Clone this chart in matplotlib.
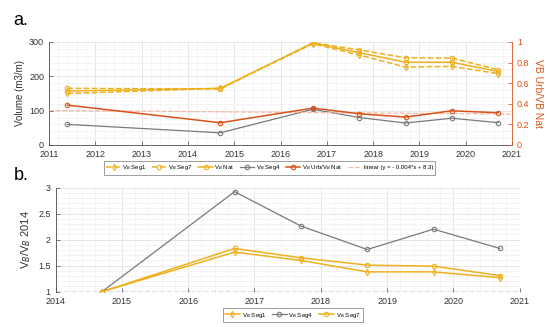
import numpy as np
from matplotlib import pyplot as plt
from matplotlib.ticker import MultipleLocator, FormatStrFormatter

# survey dates (decimal years)
YEARS = [2011.4, 2014.7, 2016.7, 2017.7, 2018.7, 2019.7, 2020.7]
YEARS_B = [2014.7, 2016.7, 2017.7, 2018.7, 2019.7, 2020.7]

# panel a: volumes (m3/m)
VB_SEG1 = [150, 165, 295, 262, 227, 229, 208]
VB_SEG7 = [165, 163, 298, 277, 254, 253, 219]
VB_NAT = [157, 165, 297, 269, 241, 241, 214]
VB_SEG4 = [60, 35.5, 104, 80, 64, 78, 65]
# ratio urban / natural (right axis)
URB_NAT = [0.387, 0.216, 0.358, 0.303, 0.271, 0.332, 0.313]
FIT_X = [2011, 2021]
FIT_Y = [0.335, 0.300]

# panel b: volume relative to 2014
REL_SEG1 = [1.0, 1.76, 1.60, 1.38, 1.38, 1.27]
REL_SEG4 = [1.0, 2.92, 2.26, 1.81, 2.20, 1.83]
REL_SEG7 = [1.0, 1.83, 1.65, 1.51, 1.49, 1.31]

YELLOW = "#EDB120"
ORANGE = "#D95319"
GRAY = "#7a7a7a"
SALMON = "#F6B8A2"
AXCOL = "#4d4d4d"
FS = 6.5

plt.rc("font", family="Liberation Sans", size=FS)


def style_axes(ax, xmin, xmax):
    ax.set_xlim(xmin, xmax)
    ax.xaxis.set_major_locator(MultipleLocator(1))
    ax.xaxis.set_minor_locator(MultipleLocator(0.2))
    ax.yaxis.set_major_formatter(FormatStrFormatter("%g"))
    ax.grid(True, which="major", color="#e3e3e3", lw=0.6)
    ax.grid(True, which="minor", color="#f0f0f0", lw=0.5)
    ax.set_axisbelow(True)
    for s in ("top", "right"):
        ax.spines[s].set_visible(False)
    for s in ("left", "bottom"):
        ax.spines[s].set_color(AXCOL)
        ax.spines[s].set_linewidth(0.6)
    ax.tick_params(which="major", direction="in", length=3, width=0.5,
                   colors=AXCOL, labelsize=FS, labelcolor="#333333")
    ax.tick_params(which="minor", length=0)


fig = plt.figure(figsize=(5.5, 3.27), dpi=100)

# ---- panel a ----
ax = fig.add_axes([0.089, 0.5566, 0.842, 0.315])
style_axes(ax, 2011, 2021)
ax.set_ylim(0, 300)
ax.yaxis.set_major_locator(MultipleLocator(100))
ax.yaxis.set_minor_locator(MultipleLocator(20))
ax.set_ylabel("Volume (m3/m)", fontsize=7, color="#333333", labelpad=3)

ms = 3.2
h1, = ax.plot(YEARS, VB_SEG1, "--", color=YELLOW, lw=1.1, marker="d", ms=ms,
              mfc="none", mew=0.8, label=r"V$_B$ Seg1")
h2, = ax.plot(YEARS, VB_SEG7, "--", color=YELLOW, lw=1.1, marker="o", ms=ms,
              mfc="none", mew=0.8, label=r"V$_B$ Seg7")
h3, = ax.plot(YEARS, VB_NAT, "-", color=YELLOW, lw=1.1, marker="o", ms=ms,
              mfc="none", mew=0.8, label=r"V$_B$ Nat")
h4, = ax.plot(YEARS, VB_SEG4, "-", color=GRAY, lw=0.9, marker="o", ms=ms,
              mfc="none", mew=0.8, label=r"V$_B$ Seg4")

ax2 = ax.twinx()
ax2.set_ylim(0, 1)
ax2.yaxis.set_major_locator(MultipleLocator(0.2))
ax2.yaxis.set_major_formatter(FormatStrFormatter("%g"))
for s in ("top", "left", "bottom"):
    ax2.spines[s].set_visible(False)
ax2.spines["right"].set_color(ORANGE)
ax2.spines["right"].set_linewidth(0.6)
ax2.tick_params(direction="in", length=3, width=0.5, colors=ORANGE,
                labelsize=FS)
ax2.set_ylabel("VB Urb/VB Nat", fontsize=7.5, color=ORANGE, rotation=270,
               labelpad=10)
h6, = ax2.plot(FIT_X, FIT_Y, "--", color=SALMON, lw=0.9,
               label="linear (y = - 0.004*x + 8.3)")
h5, = ax2.plot(YEARS, URB_NAT, "-", color=ORANGE, lw=1.1, marker="o", ms=ms,
               mfc="none", mew=0.8, label=r"V$_B$ Urb/V$_B$ Nat")
ax2.set_ylim(0, 1)

leg = ax.legend(handles=[h1, h2, h3, h4, h5, h6], ncol=6, fontsize=4.3,
                loc="center", bbox_to_anchor=(0.477, -0.223), frameon=True,
                fancybox=False, edgecolor="#555555", handlelength=2.4,
                columnspacing=0.9, handletextpad=0.3, borderpad=0.35)
leg.get_frame().set_linewidth(0.5)

fig.text(0.025, 0.925, "a.", fontsize=13)

# ---- panel b ----
bx = fig.add_axes([0.101, 0.108, 0.844, 0.3186])
style_axes(bx, 2014, 2021)
bx.set_ylim(1, 3)
bx.yaxis.set_major_locator(MultipleLocator(0.5))
bx.yaxis.set_minor_locator(MultipleLocator(0.1))
bx.spines["bottom"].set_visible(False)
bx.axhline(1, color="#555555", lw=1.0, ls="--", zorder=1.5)
bx.set_ylabel(r"V$_B$/V$_B$ 2014", fontsize=8, color="#333333", labelpad=4)

g1, = bx.plot(YEARS_B, REL_SEG1, "-", color=YELLOW, lw=1.1, marker="d",
              ms=ms, mfc="none", mew=0.8, label=r"V$_B$ Seg1")
g2, = bx.plot(YEARS_B, REL_SEG4, "-", color=GRAY, lw=0.9, marker="o",
              ms=ms, mfc="none", mew=0.8, label=r"V$_B$ Seg4")
g3, = bx.plot(YEARS_B, REL_SEG7, "-", color=YELLOW, lw=1.1, marker="o",
              ms=ms, mfc="none", mew=0.8, label=r"V$_B$ Seg7")
bx.set_ylim(1, 3)

leg2 = bx.legend(handles=[g1, g2, g3], ncol=3, fontsize=4.4, loc="center",
                 bbox_to_anchor=(0.511, -0.224), frameon=True, fancybox=False,
                 edgecolor="#555555", handlelength=2.4, columnspacing=0.9,
                 handletextpad=0.3, borderpad=0.35)
leg2.get_frame().set_linewidth(0.5)

fig.text(0.025, 0.45, "b.", fontsize=13)

fig.savefig("out.png", dpi=100)
